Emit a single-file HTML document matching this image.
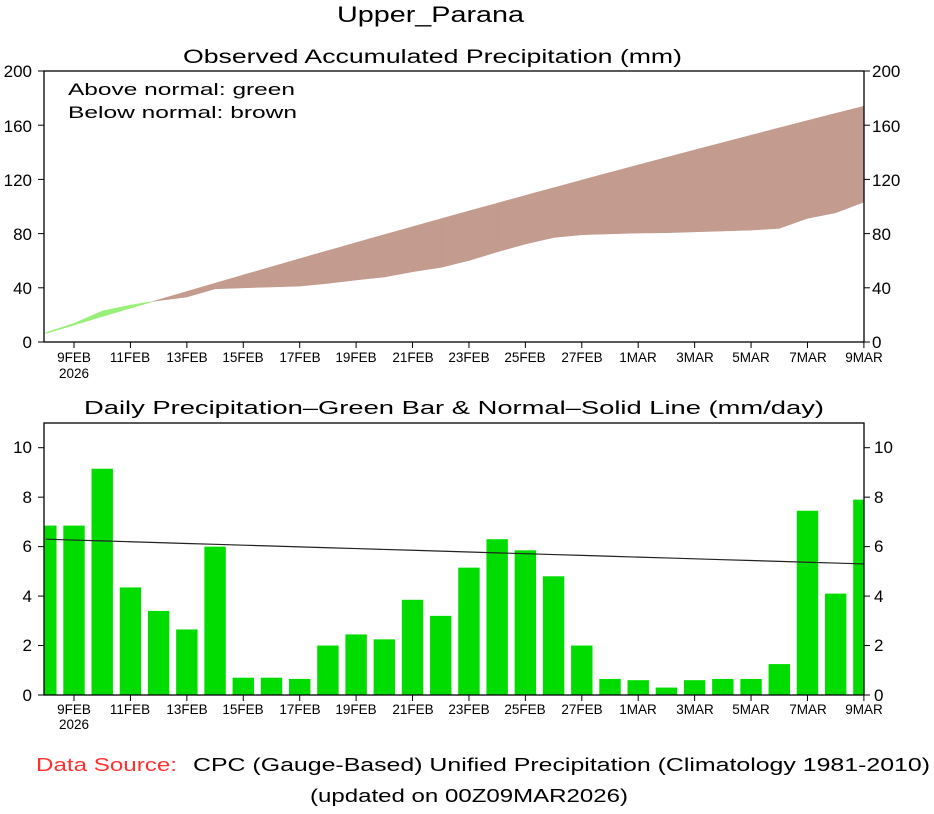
<!DOCTYPE html>
<html><head><meta charset="utf-8"><style>
body{margin:0;background:#fff;}
svg text{font-family:"Liberation Sans",sans-serif;fill:#000;}
</style></head><body>
<svg id="s" width="934" height="809" xmlns="http://www.w3.org/2000/svg">
<g id="top"></g><g id="bot"></g>
<text x="337" y="22" font-size="22" textLength="187" lengthAdjust="spacingAndGlyphs">Upper_Parana</text>
<text x="183" y="63" font-size="19" textLength="499" lengthAdjust="spacingAndGlyphs">Observed Accumulated Precipitation (mm)</text>
<text x="68" y="95" font-size="17" textLength="227" lengthAdjust="spacingAndGlyphs">Above normal: green</text>
<text x="68" y="118" font-size="17" textLength="229" lengthAdjust="spacingAndGlyphs">Below normal: brown</text>
<text x="84" y="414" font-size="18" textLength="740" lengthAdjust="spacingAndGlyphs">Daily Precipitation–Green Bar &amp; Normal–Solid Line (mm/day)</text>
<text x="36" y="771" font-size="18" style="fill:#ff3030" textLength="141" lengthAdjust="spacingAndGlyphs">Data Source:</text>
<text x="193" y="771" font-size="18" textLength="737" lengthAdjust="spacingAndGlyphs">CPC (Gauge-Based) Unified Precipitation (Climatology 1981-2010)</text>
<text x="310" y="802" font-size="18" textLength="318" lengthAdjust="spacingAndGlyphs">(updated on 00Z09MAR2026)</text>
<g font-size="17">
<text x="32" y="77" text-anchor="end">200</text><text x="32" y="132" text-anchor="end">160</text><text x="32" y="186" text-anchor="end">120</text><text x="32" y="240" text-anchor="end">80</text><text x="32" y="294" text-anchor="end">40</text><text x="32" y="348" text-anchor="end">0</text>
<text x="872" y="77">200</text><text x="872" y="132">160</text><text x="872" y="186">120</text><text x="872" y="240">80</text><text x="872" y="294">40</text><text x="872" y="348">0</text>
<text x="32" y="453" text-anchor="end">10</text><text x="32" y="503" text-anchor="end">8</text><text x="32" y="552" text-anchor="end">6</text><text x="32" y="602" text-anchor="end">4</text><text x="32" y="651" text-anchor="end">2</text><text x="32" y="701" text-anchor="end">0</text>
<text x="874" y="453">10</text><text x="874" y="503">8</text><text x="874" y="552">6</text><text x="874" y="602">4</text><text x="874" y="651">2</text><text x="874" y="701">0</text>
</g>
<g font-size="13.5" text-anchor="middle" id="xl">
<text x="74" y="362">9FEB</text><text x="74" y="378">2026</text><text x="130" y="362">11FEB</text><text x="187" y="362">13FEB</text><text x="243" y="362">15FEB</text><text x="300" y="362">17FEB</text><text x="356" y="362">19FEB</text><text x="413" y="362">21FEB</text><text x="469" y="362">23FEB</text><text x="525" y="362">25FEB</text><text x="582" y="362">27FEB</text><text x="638" y="362">1MAR</text><text x="695" y="362">3MAR</text><text x="751" y="362">5MAR</text><text x="808" y="362">7MAR</text><text x="864" y="362">9MAR</text>
<text x="74" y="714">9FEB</text><text x="74" y="729">2026</text><text x="130" y="714">11FEB</text><text x="187" y="714">13FEB</text><text x="243" y="714">15FEB</text><text x="300" y="714">17FEB</text><text x="356" y="714">19FEB</text><text x="413" y="714">21FEB</text><text x="469" y="714">23FEB</text><text x="525" y="714">25FEB</text><text x="582" y="714">27FEB</text><text x="638" y="714">1MAR</text><text x="695" y="714">3MAR</text><text x="751" y="714">5MAR</text><text x="808" y="714">7MAR</text><text x="864" y="714">9MAR</text>
</g>
</svg>
<script>
var d=[6.85,6.85,9.15,4.35,3.4,2.65,6.0,0.7,0.7,0.65,2.0,2.45,2.25,3.85,3.2,5.15,6.3,5.85,4.8,2.0,0.65,0.6,0.3,0.6,0.65,0.65,1.25,7.45,4.1,7.9];
var n=d.length,X=function(i){return 45.8+i*28.21;};
var ty=function(v){return 342-v*271/200;}, by=function(v){return 695-v*24.73;};
var nm=[],co=[],cn=[],a=0,b=0;
for(var i=0;i<n;i++){nm.push(6.3-i*1.0/29);a+=d[i];b+=nm[i];co.push(a);cn.push(b);}
var h='';
for(var i=0;i<n-1;i++){
 var o1=co[i],o2=co[i+1],c1=cn[i],c2=cn[i+1],x1=X(i),x2=X(i+1);
 var d1=o1-c1,d2=o2-c2;
 function q(xa,oa,ca,xb,ob,cb,col){h+='<polygon fill="'+col+'" stroke="'+col+'" stroke-width="0.6" points="'+xa+','+ty(oa)+' '+xb+','+ty(ob)+' '+xb+','+ty(cb)+' '+xa+','+ty(ca)+'"/>';}
 if(d1*d2<0){var t=d1/(d1-d2),xm=x1+t*(x2-x1),om=o1+t*(o2-o1);
  q(x1,o1,c1,xm,om,om,d1>0?'#98f07a':'#c39b8f');q(xm,om,om,x2,o2,c2,d2>0?'#98f07a':'#c39b8f');}
 else q(x1,o1,c1,x2,o2,c2,(d1+d2)>0?'#98f07a':'#c39b8f');
}
var L=44,R=864;
h+='<rect x="'+L+'" y="71" width="'+(R-L)+'" height="271" fill="none" stroke="#000" stroke-width="1.3"/>';
[0,40,80,120,160,200].forEach(function(v){h+='<line x1="38" x2="44" y1="'+ty(v)+'" y2="'+ty(v)+'" stroke="#000"/><line x1="864" x2="870" y1="'+ty(v)+'" y2="'+ty(v)+'" stroke="#000"/>';});
for(var k=1;k<n;k+=2){h+='<line x1="'+X(k)+'" x2="'+X(k)+'" y1="342" y2="348" stroke="#000"/>';}
document.getElementById('top').innerHTML=h;
var g='';
for(var i=0;i<n;i++){var x=X(i)-10.7,w=21.4;if(x<L){w-=L-x;x=L;}if(x+w>R)w=R-x;g+='<rect x="'+x+'" y="'+by(d[i])+'" width="'+w+'" height="'+(695-by(d[i]))+'" fill="#00dc00"/>';}
var p='';for(var i=0;i<n;i++){p+=(i?' ':'')+X(i)+','+by(nm[i]);}
g+='<polyline points="'+p+'" fill="none" stroke="#222" stroke-width="1.2"/>';
g+='<rect x="'+L+'" y="423" width="'+(R-L)+'" height="272" fill="none" stroke="#000" stroke-width="1.3"/>';
[0,2,4,6,8,10].forEach(function(v){g+='<line x1="38" x2="44" y1="'+by(v)+'" y2="'+by(v)+'" stroke="#000"/><line x1="864" x2="870" y1="'+by(v)+'" y2="'+by(v)+'" stroke="#000"/>';});
for(var k=1;k<n;k+=2){g+='<line x1="'+X(k)+'" x2="'+X(k)+'" y1="695" y2="701" stroke="#000"/>';}
document.getElementById('bot').innerHTML=g;
</script>
</body></html>
